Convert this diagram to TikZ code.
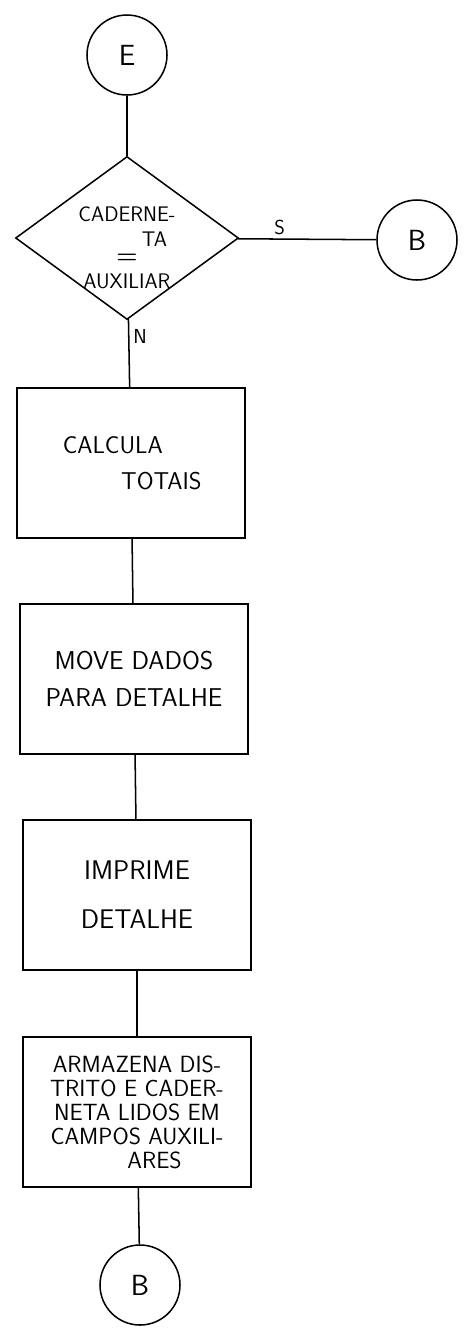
\documentclass[tikz,border=0pt]{standalone}
\usepackage{tikz}
\usetikzlibrary{shapes.geometric, positioning, calc}

\begin{document}
\begin{tikzpicture}[x=0.03cm, y=-0.03cm, line width=1.3pt,
    conector/.style={draw, circle, minimum size=2.4cm, inner sep=0pt, font=\Huge\sffamily},
    decisao/.style={draw, diamond, minimum width=6.69cm, minimum height=4.89cm, inner sep=0pt},
    caixa/.style={draw, rectangle, minimum width=6.84cm, minimum height=4.5cm, align=center, font=\huge\sffamily},
    texto/.style={align=center, font=\fontsize{18}{21}\selectfont\sffamily},
    rotulo/.style={font=\LARGE\sffamily}]

            % Moldura da figura
            \useasboundingbox (0,0) rectangle (468,1336);

            % Conector de entrada
            \node[conector] (E) at (127,55) {E}; % Conector E

            % Decisao
            \node[decisao] (dec) at (127,238) {}; % Losango
            \node[texto] (dectxt) at (127,248) {CADERNE-\\\hspace{2.6em}TA\\[-6pt]{\huge\boldmath$=$}\\AUXILIAR}; % Teste da caderneta
            \node[conector] (Bdir) at (417,240) {B}; % Conector B (sim)

            % Caixas de processamento
            \node[caixa] (calc) at (131,463) {\hspace*{-1.5em}CALCULA\\[6pt]\hspace{2.5em}TOTAIS}; % Caixa 1
            \node[caixa, font=\fontsize{22}{32}\selectfont\sffamily] (move) at (134,679) {MOVE DADOS\\PARA DETALHE}; % Caixa 2
            \node[caixa, font=\fontsize{23}{42}\selectfont\sffamily] (impr) at (137,895) {IMPRIME\\DETALHE}; % Caixa 3
            \node[caixa, font=\fontsize{20}{20.5}\selectfont\sffamily] (arm) at (137,1112) {ARMAZENA DIS-\\TRITO E CADER-\\NETA LIDOS EM\\CAMPOS AUXILI-\\\hspace{1.5em}ARES}; % Caixa 4

            % Conector de saida
            \node[conector] (Bbaixo) at (140,1285) {B}; % Conector B

            % Linhas de ligacao
            \draw (E) -- (dec);
            \draw (dec) -- node[rotulo, above, pos=0.3] (sim) {S} (Bdir);
            \draw (dec) -- node[rotulo, right, pos=0.25] (nao) {N} (calc);
            \draw (calc) -- (move);
            \draw (move) -- (impr);
            \draw (impr) -- (arm);
            \draw (arm) -- (Bbaixo);

\end{tikzpicture}
\end{document}
